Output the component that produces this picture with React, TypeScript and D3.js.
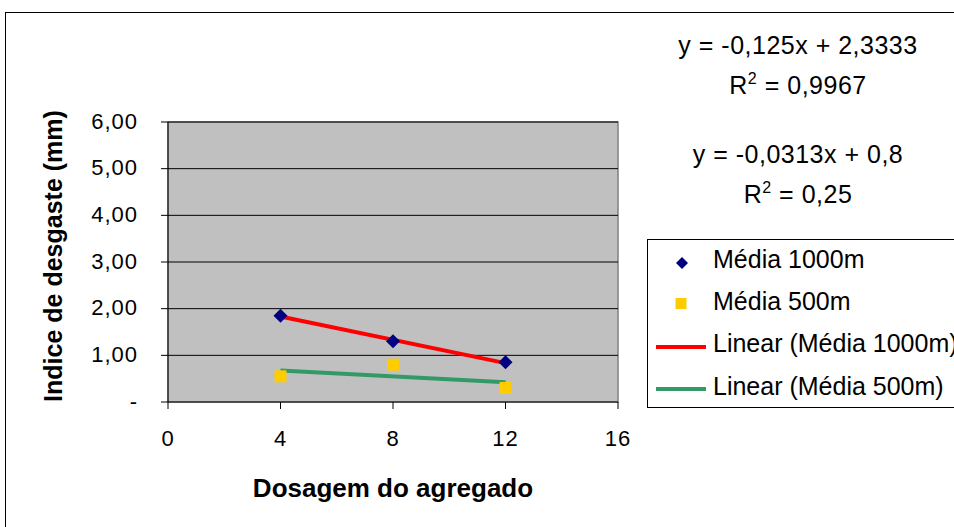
import React from "react";
import * as d3 from "d3";

const xs = [4, 8, 12];
const media1000 = [1.85, 1.3, 0.85];
const media500 = [0.55, 0.8, 0.3];
const xTicks = [0, 4, 8, 12, 16];
const yTicks = [0, 1, 2, 3, 4, 5, 6];
const yTickLabels = ["-", "1,00", "2,00", "3,00", "4,00", "5,00", "6,00"];
const trend1000 = { slope: -0.125, intercept: 2.3333, eq: "y = -0,125x + 2,3333", r2: "0,9967" };
const trend500 = { slope: -0.0313, intercept: 0.8, eq: "y = -0,0313x + 0,8", r2: "0,25" };
const legendLabels = ["Média 1000m", "Média 500m", "Linear (Média 1000m)", "Linear (Média 500m)"];

const W = 954, H = 527;
const L = 168, R = 618, T = 122, B = 402;
const font = "'Liberation Sans', Arial, sans-serif";

const diamondPath = (r: number) => `M0,${-r}L${r},0L0,${r}L${-r},0Z`;

export default function App() {
  const x = d3.scaleLinear().domain([0, 16]).range([L, R]);
  const y = d3.scaleLinear().domain([0, 6]).range([B, T]);
  const trendPath = (t: { slope: number; intercept: number }) =>
    d3.line<number>().x((d) => x(d)).y((d) => y(t.slope * d + t.intercept))([xs[0], xs[xs.length - 1]]) || "";
  const lgX = 647, lgY = 239;
  const rowBase = [268, 310, 352, 395];
  const lineY = [347, 389];
  return (
    <svg width={W} height={H} style={{ position: "absolute", left: 0, top: 0, fontFamily: font }}>
      <rect x={0} y={0} width={W} height={H} fill="#fff" />
      <rect x={5.5} y={12.5} width={W + 10} height={H} fill="none" stroke="#000" strokeWidth={1} />
      <rect x={L} y={T} width={R - L} height={B - T} fill="#C0C0C0" stroke="#808080" strokeWidth={1.5} />
      {yTicks.slice(1).map((t) => (
        <line key={t} x1={L} x2={R} y1={y(t)} y2={y(t)} stroke="#000" strokeWidth={1} />
      ))}
      <line x1={L} x2={L} y1={T} y2={B} stroke="#000" />
      <line x1={L} x2={R} y1={B} y2={B} stroke="#000" />
      {yTicks.map((t, i) => (
        <g key={t}>
          <line x1={L - 7} x2={L} y1={y(t)} y2={y(t)} stroke="#000" />
          <text x={138} y={y(t) + 6.5} textAnchor="end" fontSize={22} letterSpacing={1}>{yTickLabels[i]}</text>
        </g>
      ))}
      {xTicks.map((t) => (
        <g key={t}>
          <line x1={x(t)} x2={x(t)} y1={B} y2={B + 7} stroke="#000" />
          <text x={x(t)} y={446} textAnchor="middle" fontSize={22} letterSpacing={1}>{t}</text>
        </g>
      ))}
      <path d={trendPath(trend1000)} stroke="#FF0000" strokeWidth={4} fill="none" />
      <path d={trendPath(trend500)} stroke="#339966" strokeWidth={4} fill="none" />
      {xs.map((v, i) => (
        <path key={"d" + i} d={diamondPath(7)} transform={`translate(${x(v)},${y(media1000[i])})`} fill="#000080" />
      ))}
      {xs.map((v, i) => (
        <rect key={"s" + i} x={x(v) - 6} y={y(media500[i]) - 6} width={12} height={12} fill="#FFCC00" />
      ))}
      <text x={393} y={497} textAnchor="middle" fontSize={26} fontWeight="bold">Dosagem do agregado</text>
      <text transform={`translate(62,256) rotate(-90)`} textAnchor="middle" fontSize={25} fontWeight="bold">Indice de desgaste (mm)</text>
      <text x={798} y={54} textAnchor="middle" fontSize={25} letterSpacing={0.5}>{trend1000.eq}</text>
      <text x={798} y={94} textAnchor="middle" fontSize={25} letterSpacing={0.5}>R<tspan dy="-10" fontSize={16}>2</tspan><tspan dy="10"> = {trend1000.r2}</tspan></text>
      <text x={798} y={163} textAnchor="middle" fontSize={25} letterSpacing={0.5}>{trend500.eq}</text>
      <text x={798} y={203} textAnchor="middle" fontSize={25} letterSpacing={0.5}>R<tspan dy="-10" fontSize={16}>2</tspan><tspan dy="10"> = {trend500.r2}</tspan></text>
      <rect x={lgX + 0.5} y={lgY + 0.5} width={W} height={168} fill="#fff" stroke="#000" strokeWidth={1} />
      <path d={diamondPath(6)} transform={`translate(682,263)`} fill="#000080" />
      <rect x={675.5} y={298} width={11} height={11} fill="#FFCC00" />
      <line x1={656} x2={706} y1={lineY[0]} y2={lineY[0]} stroke="#FF0000" strokeWidth={4} />
      <line x1={656} x2={706} y1={lineY[1]} y2={lineY[1]} stroke="#339966" strokeWidth={4} />
      {legendLabels.map((l, i) => (
        <text key={l} x={713} y={rowBase[i]} fontSize={25}>{l}</text>
      ))}
    </svg>
  );
}
